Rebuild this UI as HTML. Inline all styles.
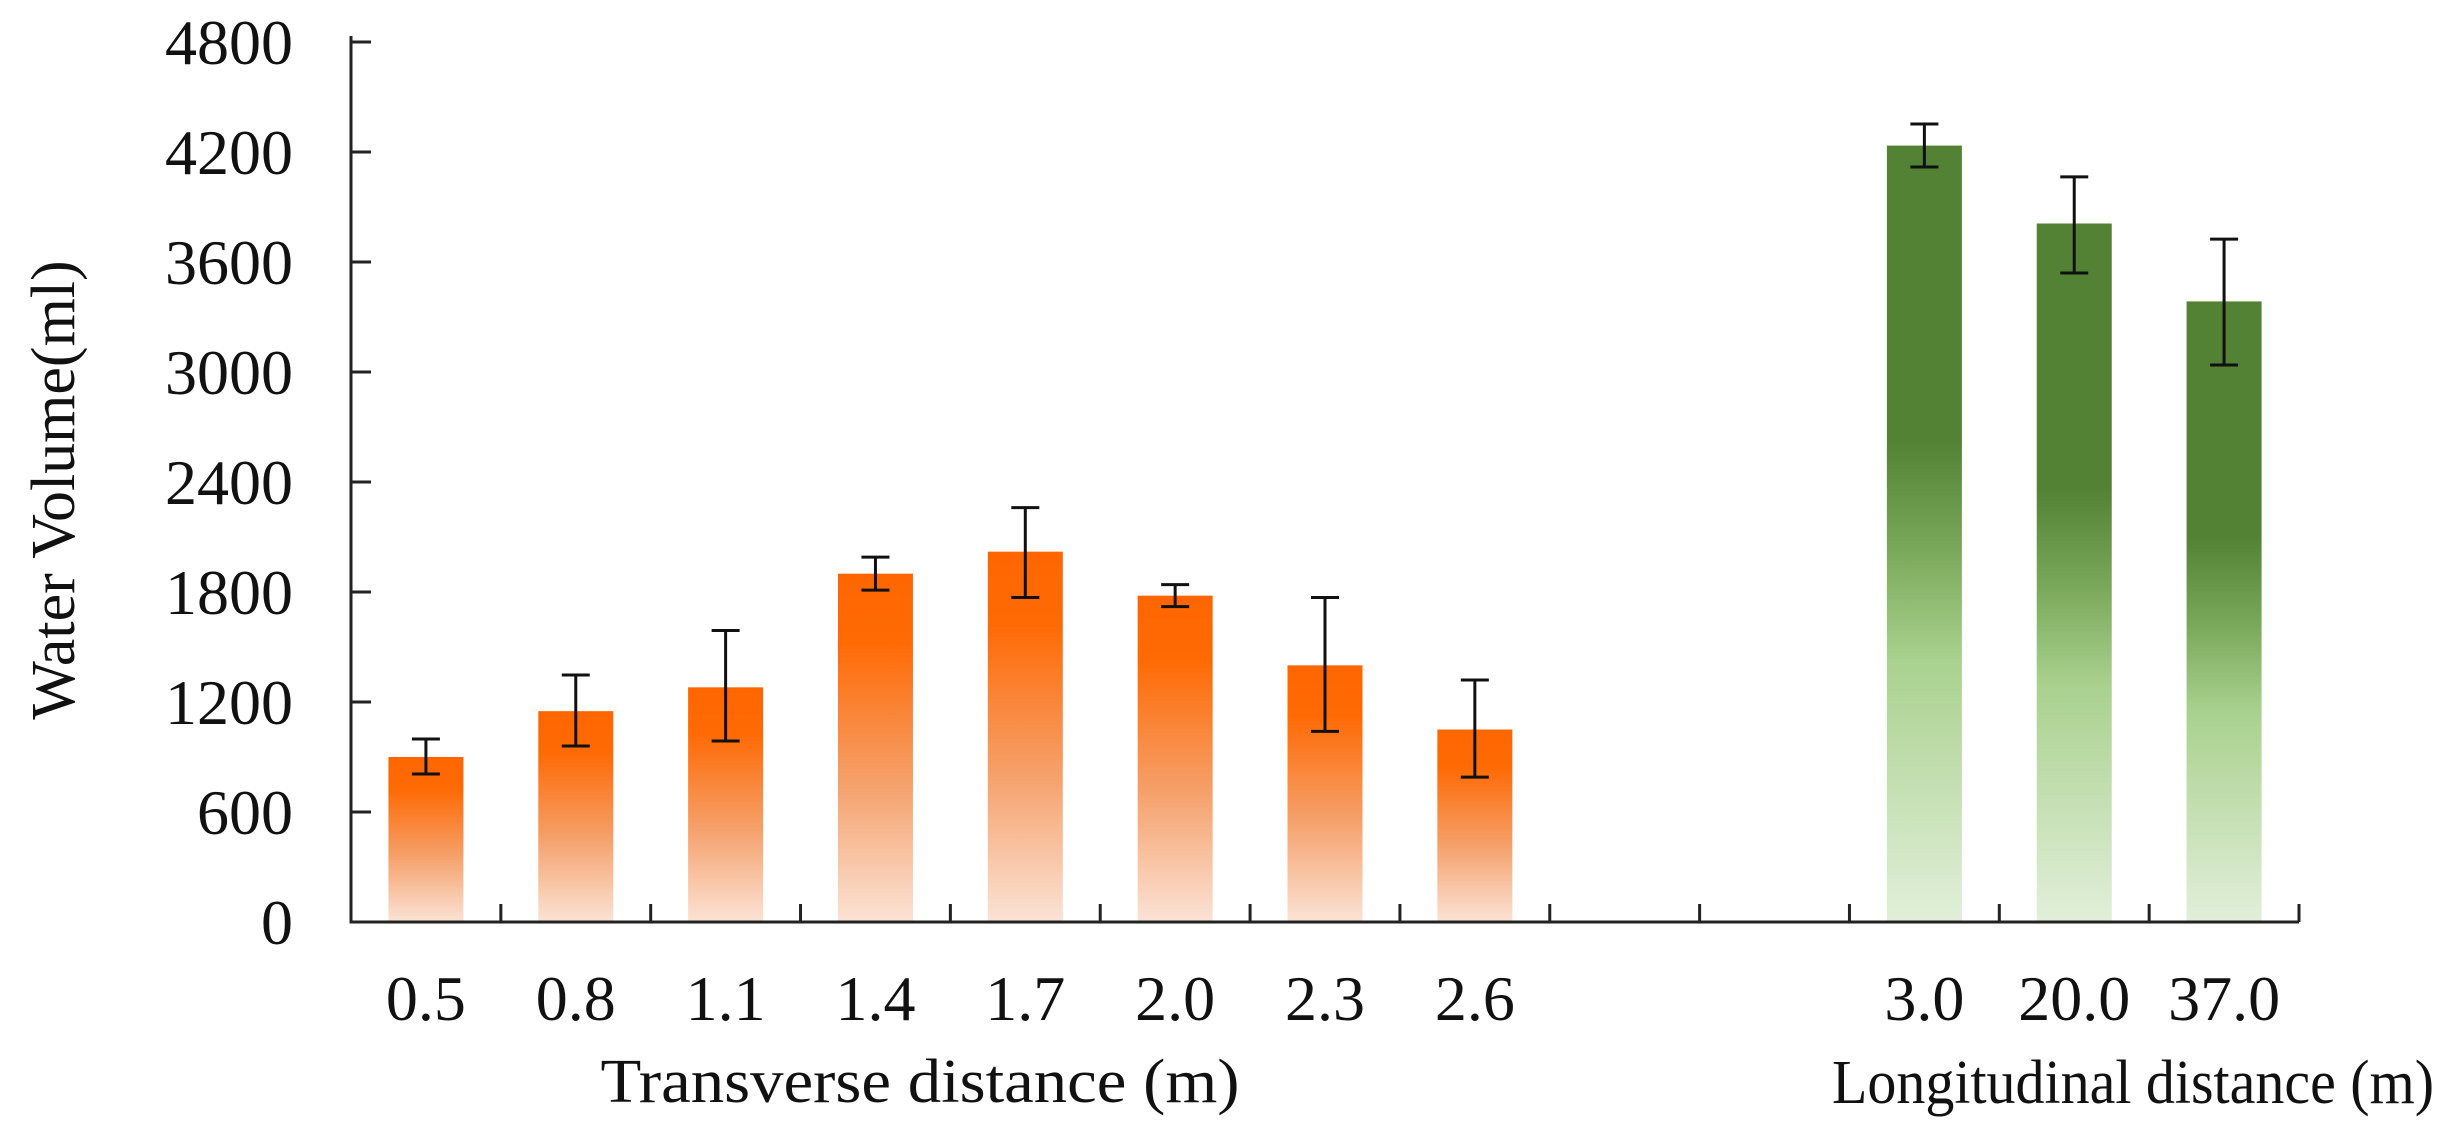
<!DOCTYPE html>
<html><head><meta charset="utf-8">
<style>
html,body{margin:0;padding:0;background:#fff;}
svg{display:block;font-family:"Liberation Serif",serif;}
</style></head>
<body>
<svg id="chart" width="2464" height="1140" viewBox="0 0 2464 1140" xmlns="http://www.w3.org/2000/svg">
<defs>
<linearGradient id="gOrange" x1="0" y1="0" x2="0" y2="1">
<stop offset="0" stop-color="#ff6600"/>
<stop offset="0.2" stop-color="#ff6a05"/>
<stop offset="0.6" stop-color="#f5a06a"/>
<stop offset="1" stop-color="#fbe3d6"/>
</linearGradient>
<linearGradient id="gGreen" x1="0" y1="0" x2="0" y2="1">
<stop offset="0" stop-color="#548235"/>
<stop offset="0.38" stop-color="#548235"/>
<stop offset="0.52" stop-color="#7aa85a"/>
<stop offset="0.66" stop-color="#a9d18e"/>
<stop offset="1" stop-color="#e2efda"/>
</linearGradient>
</defs>
<g id="bars"></g>
<g id="axes"></g>
</svg>
<script>
const categories = ["0.5","0.8","1.1","1.4","1.7","2.0","2.3","2.6","","","3.0","20.0","37.0"];
const groups = ["t","t","t","t","t","t","t","t",null,null,"l","l","l"];
const values = [900,1150,1280,1900,2020,1780,1400,1050,null,null,4235,3810,3385];
const errHigh = [998,1347,1590,1990,2260,1840,1770,1320,null,null,4353,4064,3725];
const errLow = [807,960,987,1810,1770,1720,1040,790,null,null,4118,3540,3038];
const yTicks = [0,600,1200,1800,2400,3000,3600,4200,4800];

const NS="http://www.w3.org/2000/svg";
const X0=351, X1=2299, Y0=922, Ytop=42, YMAX=4800;
const slot=(X1-X0)/categories.length;
const xC=i=>X0+slot*(i+0.5);
const yS=v=>Y0-(v/YMAX)*(Y0-Ytop);
function mk(tag,attrs,parent){const e=document.createElementNS(NS,tag);for(const k in attrs)e.setAttribute(k,attrs[k]);parent.appendChild(e);return e;}
const bars=document.getElementById('bars'), axes=document.getElementById('axes');
const bw=75, cap=28;
values.forEach((v,i)=>{
  if(v==null) return;
  const r=mk('rect',{x:xC(i)-bw/2,y:yS(v),width:bw,height:Y0-yS(v),fill:groups[i]==='t'?'url(#gOrange)':'url(#gGreen)'},bars);
  
  
  const g=mk('g',{stroke:'#111','stroke-width':3},bars);
  
  
  mk('line',{x1:xC(i),x2:xC(i),y1:yS(errHigh[i]),y2:yS(errLow[i])},g);
  mk('line',{x1:xC(i)-cap/2,x2:xC(i)+cap/2,y1:yS(errHigh[i]),y2:yS(errHigh[i])},g);
  mk('line',{x1:xC(i)-cap/2,x2:xC(i)+cap/2,y1:yS(errLow[i]),y2:yS(errLow[i])},g);
});
const ya=mk('line',{x1:X0,x2:X0,y1:Ytop-6,y2:Y0+1.5,stroke:'#222','stroke-width':3},axes);


const xa=mk('line',{x1:X0-1.5,x2:X1,y1:Y0,y2:Y0,stroke:'#222','stroke-width':3},axes);


yTicks.forEach(t=>{
  const y=yS(t);
  if(t>0){const tk=mk('line',{x1:X0,x2:X0+20,y1:y,y2:y,stroke:'#222','stroke-width':3},axes);
  
  }
  const tx=mk('text',{x:293,y:y+22,'text-anchor':'end','font-size':64,fill:'#111'},axes);
  tx.textContent=t;
  
  
});
for(let i=1;i<=categories.length;i++){
  const x=X0+slot*i;
  const tk=mk('line',{x1:x,x2:x,y1:Y0,y2:Y0-18,stroke:'#222','stroke-width':3},axes);
  
  
}
categories.forEach((c,i)=>{
  if(!c) return;
  const tx=mk('text',{x:xC(i),y:1020,'text-anchor':'middle','font-size':64,fill:'#111'},axes);
  tx.textContent=c;
  
  
});
const t1=mk('text',{x:920,y:1102,'text-anchor':'middle','font-size':62,fill:'#111',textLength:639,lengthAdjust:'spacingAndGlyphs'},axes);
t1.textContent='Transverse distance (m)';


const t2=mk('text',{x:2133,y:1103,'text-anchor':'middle','font-size':62,fill:'#111',textLength:602,lengthAdjust:'spacingAndGlyphs'},axes);
t2.textContent='Longitudinal distance (m)';


const t3=mk('text',{x:0,y:0,'text-anchor':'middle','font-size':62,fill:'#111',transform:'translate(74,490) rotate(-90)'},axes);
t3.textContent='Water Volume(ml)';


</script>
</body></html>
